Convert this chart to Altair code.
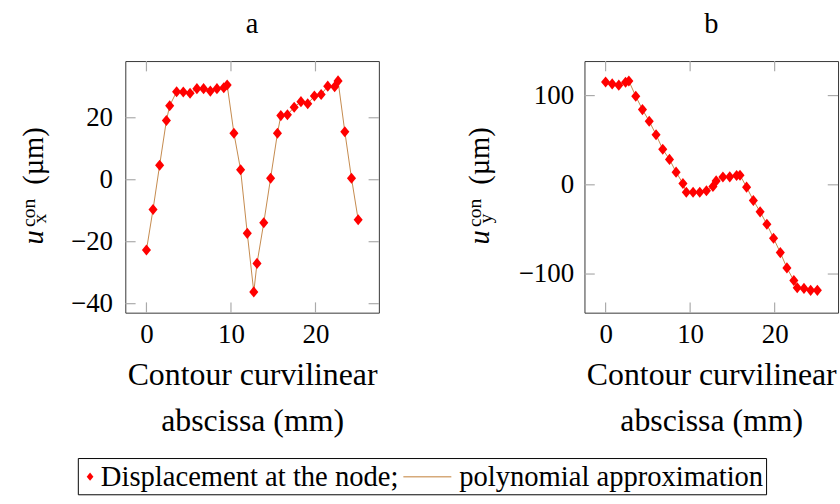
import altair as alt
import pandas as pd

# ---------------- data ----------------
s_mm = [0, 0.78, 1.56, 2.36, 2.75, 3.57, 4.36, 5.16, 5.97, 6.76, 7.56, 8.34,
        9.15, 9.55, 10.35, 11.14, 11.93, 12.7, 13.08, 13.88, 14.69, 15.5, 15.9,
        16.68, 17.48, 18.28, 19.08, 19.87, 20.67, 21.45, 22.27, 22.67, 23.47,
        24.26, 25.05]
ux = [-22.7, -9.6, 4.7, 19.1, 23.9, 28.4, 28.3, 27.9, 29.4, 29.4, 28.6, 29.4,
      29.7, 30.6, 15.0, 3.2, -17.3, -36.2, -27.0, -13.9, 0.5, 15.0, 20.7,
      21.0, 23.4, 25.2, 24.5, 27.0, 27.5, 30.2, 30.0, 31.9, 15.5, 0.5, -12.9]
uy = [115.3, 113.1, 111.7, 115.0, 116.4, 99.2, 84.3, 71.2, 56.2, 39.8, 28.5,
      14.2, 1.4, -8.4, -8.4, -8.4, -6.6, -1.9, 4.4, 8.8, 8.9, 10.5, 10.8,
      -2.6, -17.5, -30.3, -44.2, -59.9, -76.0, -93.1, -107.3, -115.4, -116.1,
      -118.3, -118.3]
x_ticks = [0, 10, 20]
ya_ticks = [-40, -20, 0, 20]
yb_ticks = [-100, 0, 100]
panel_titles = ["a", "b"]
x_title = ["Contour curvilinear", "abscissa (mm)"]
legend_labels = ["Displacement at the node;", "polynomial approximation"]

df = pd.DataFrame({"s": s_mm, "ux": ux, "uy": uy})

FONT = "Liberation Serif"
LINE = "#c4884b"
TICKC = "#aaaaaa"
W, H = 259, 257
TICK = 10.5
DIAMOND = "M0,-1L0.82,0L0,1L-0.82,0Z"
one = pd.DataFrame({"k": [0]})


def ytext(text, size, italic, bx, cy):
    return alt.Chart(one).mark_text(
        text=text, angle=270, font=FONT, fontSize=size,
        fontStyle="italic" if italic else "normal",
        align="center", baseline="alphabetic", color="black",
    ).encode(x=alt.value(bx), y=alt.value(cy))


def panel(col, dom, yticks, title, sub, bx, ypad):
    xs = alt.Scale(domain=[-2.5, 27.5], nice=False, zero=False)
    ys = alt.Scale(domain=dom, nice=False, zero=False)
    xax = alt.Axis(values=x_ticks, ticks=False, tickSize=0, domain=False,
                   grid=False, labelFont=FONT, labelFontSize=27.5,
                   labelColor="black", labelPadding=8, title=x_title,
                   titleFont=FONT, titleFontSize=32.5, titleFontWeight="normal",
                   titleColor="black", titleLineHeight=47, titlePadding=12)
    yax = alt.Axis(values=yticks, ticks=False, tickSize=0, domain=False,
                   grid=False, labelFont=FONT, labelFontSize=27.5,
                   labelColor="black", labelPadding=ypad, title=None)
    base = alt.Chart(df)
    line = base.mark_line(color=LINE, strokeWidth=1).encode(
        x=alt.X("s:Q", scale=xs, axis=xax),
        y=alt.Y(f"{col}:Q", scale=ys, axis=yax))
    pts = base.mark_point(shape=DIAMOND, filled=True, color="#ff0000",
                          opacity=1, size=128).encode(
        x=alt.X("s:Q", scale=xs, axis=xax), y=alt.Y(f"{col}:Q", scale=ys, axis=yax))
    xt = alt.Chart(pd.DataFrame({"t": x_ticks}))
    yt = alt.Chart(pd.DataFrame({"t": yticks}))
    xb = xt.mark_rule(color=TICKC, strokeWidth=1.2).encode(
        x=alt.X("t:Q", scale=xs, axis=xax), y=alt.value(H), y2=alt.value(H - TICK))
    xtp = xt.mark_rule(color=TICKC, strokeWidth=1.2).encode(
        x=alt.X("t:Q", scale=xs, axis=xax), y=alt.value(0), y2=alt.value(TICK))
    yl = yt.mark_rule(color=TICKC, strokeWidth=1.2).encode(
        y=alt.Y("t:Q", scale=ys, axis=yax), x=alt.value(0), x2=alt.value(TICK))
    yr = yt.mark_rule(color=TICKC, strokeWidth=1.2).encode(
        y=alt.Y("t:Q", scale=ys, axis=yax), x=alt.value(W - TICK), x2=alt.value(W))
    t_u = ytext("u", 29, True, bx, 180)
    t_con = ytext("con", 20, False, bx - 8, 155)
    t_sub = ytext(sub, 20, False, bx + 3, 161)
    t_um = ytext("(µm)", 29, False, bx, 97)
    return alt.layer(line, pts, xb, xtp, yl, yr, t_u, t_con, t_sub, t_um).properties(
        width=W, height=H,
        title=alt.TitleParams(text=title, font=FONT, fontSize=29,
                              fontWeight="normal", color="black", offset=22),
    )


pa = panel("ux", [-42.9, 38.3], ya_ticks, panel_titles[0], "x", -84, 13)
pb = panel("uy", [-143.3, 138.7], yb_ticks, panel_titles[1], "y", -97.5, 11)

row = alt.hconcat(pa, pb, spacing=86)

# ---------------- legend (aligned on panel a's plot origin) ----------------
LX0, LX1, LH = -48, 655, 37
LFS = 29.2
box = alt.Chart(one).mark_rect(fill="white", stroke="black", strokeWidth=1).encode(
    x=alt.value(LX0), x2=alt.value(LX1), y=alt.value(0), y2=alt.value(LH))
lpt = alt.Chart(one).mark_point(shape=DIAMOND, filled=True, color="#ff0000",
                                opacity=1, size=70).encode(
    x=alt.value(LX0 + 12), y=alt.value(LH / 2))
lt1 = alt.Chart(one).mark_text(text=legend_labels[0], font=FONT, fontSize=LFS,
                               align="left", baseline="middle", color="black").encode(
    x=alt.value(LX0 + 23), y=alt.value(LH / 2 + 1))
lln = alt.Chart(one).mark_rule(color="#d6aa7a", strokeWidth=1.5).encode(
    x=alt.value(LX0 + 332), x2=alt.value(LX0 + 381), y=alt.value(LH / 2))
lt2 = alt.Chart(one).mark_text(text=legend_labels[1], font=FONT, fontSize=LFS,
                               align="left", baseline="middle", color="black").encode(
    x=alt.value(LX0 + 389), y=alt.value(LH / 2 + 1))
legend = alt.layer(box, lpt, lt1, lln, lt2).properties(
    width=LX1, height=LH, view=alt.ViewBackground(stroke="transparent"))

chart = alt.vconcat(row, legend, spacing=20).properties(
    padding={"left": 19, "top": 4, "right": 0, "bottom": 0}
).configure_view(stroke="#333333", strokeWidth=1)

chart.save("out.html", embed_options={"renderer": "svg", "actions": False})
